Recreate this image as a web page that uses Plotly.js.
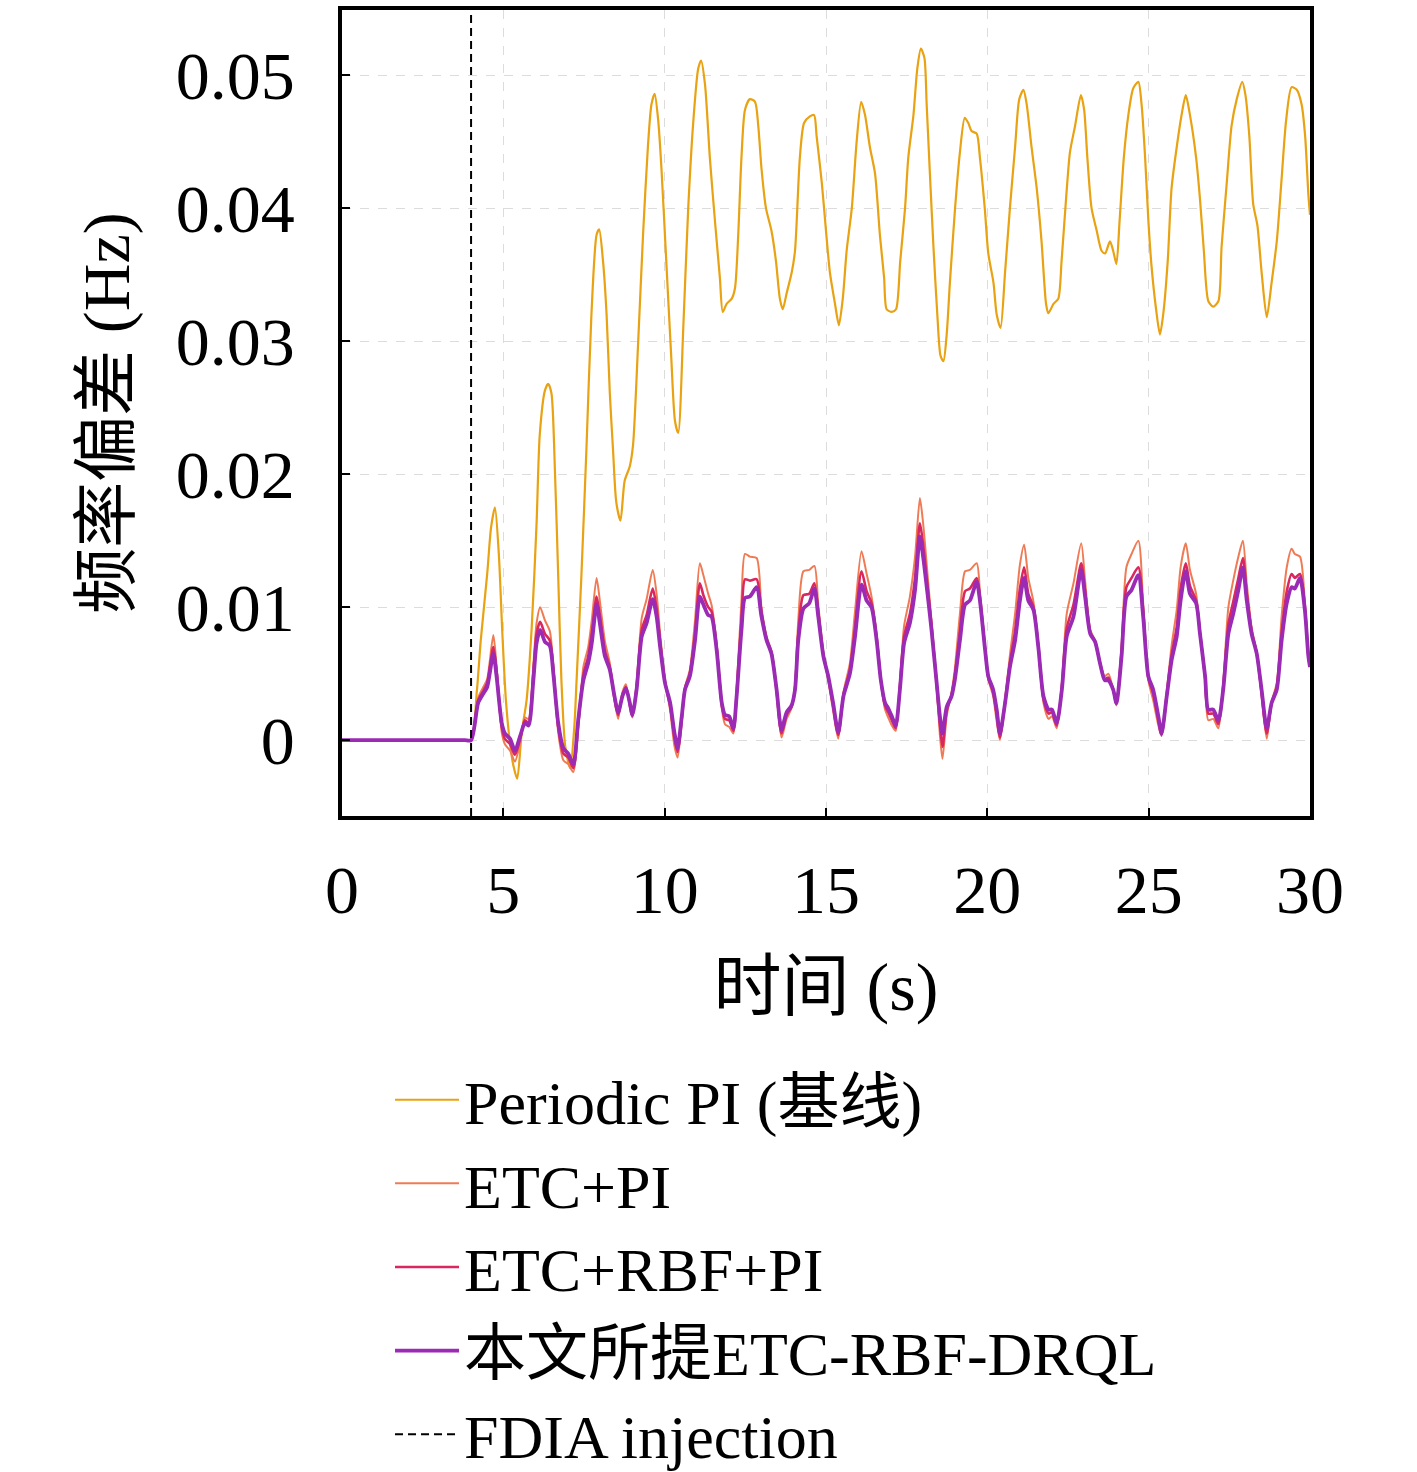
<!DOCTYPE html>
<html>
<head>
<meta charset="utf-8">
<script src="https://cdn.plot.ly/plotly-3.0.1.min.js"></script>
<style>
  body { margin: 0; background: #fff; }
  #plot { width: 1417px; height: 1472px; }
</style>
</head>
<body>
<div id="plot"></div>
<script>
// time grid for the three controller traces (s)
const tCtrl = [0, 1, 2, 3, 3.8, 4.0, 4.22, 4.38, 4.5, 4.69, 4.79, 4.95, 5.05, 5.21, 5.36, 5.52, 5.67, 5.78, 5.93, 6.03, 6.14, 6.29, 6.44, 6.55,
  6.70, 6.86, 7.01, 7.17, 7.32, 7.48, 7.63, 7.74, 7.89, 7.99, 8.15, 8.30, 8.43, 8.56, 8.69, 8.80, 8.92, 9.00, 9.13, 9.29,
  9.44, 9.63, 9.75, 9.86, 10.01, 10.17, 10.30, 10.40, 10.53, 10.63, 10.78, 10.94, 11.09, 11.20, 11.35, 11.45, 11.61, 11.77, 11.87, 12.00,
  12.13, 12.23, 12.38, 12.49, 12.64, 12.85, 13.00, 13.16, 13.31, 13.47, 13.62, 13.78, 13.93, 14.04, 14.14, 14.30, 14.48, 14.64, 14.76, 14.92,
  15.07, 15.22, 15.38, 15.54, 15.74, 15.90, 16.10, 16.26, 16.41, 16.57, 16.70, 16.83, 16.93, 17.04, 17.16, 17.29, 17.42, 17.60, 17.76, 17.91,
  18.01, 18.17, 18.27, 18.43, 18.53, 18.61, 18.74, 18.89, 18.99, 19.15, 19.31, 19.46, 19.67, 19.77, 19.93, 20.03, 20.18, 20.29, 20.39, 20.55,
  20.70, 20.86, 21.01, 21.14, 21.27, 21.43, 21.58, 21.74, 21.90, 22.00, 22.15, 22.31, 22.46, 22.67, 22.91, 23.03, 23.19, 23.34, 23.49, 23.64,
  23.75, 23.90, 24.00, 24.16, 24.31, 24.47, 24.68, 24.83, 24.99, 25.14, 25.30, 25.40, 25.56, 25.71, 25.87, 25.99, 26.15, 26.28, 26.47, 26.59,
  26.75, 26.85, 27.00, 27.16, 27.31, 27.47, 27.62, 27.78, 27.92, 28.04, 28.19, 28.35, 28.50, 28.66, 28.81, 28.97, 29.12, 29.28, 29.43, 29.53,
  29.69, 29.84, 29.95, 30.00];

const proposed = [0, 0, 0, 0, 0, 0, .0028, .0035, .0040, .0065, .0048, .0013, .0005, .0001, -.0008, .0003, .0013, .0011, .0045, .0073, .0083, .0074, .0071, .0050,
  .0013, -.0006, -.0010, -.0018, .0015, .0045, .0058, .0073, .0102, .0088, .0063, .0053, .0035, .0021, .0033, .0039, .0028, .0019, .0038, .0078,
  .0088, .0106, .0093, .0070, .0043, .0028, .0006, -.0006, .0018, .0038, .0048, .0075, .0108, .0102, .0094, .0093, .0068, .0028, .0019, .0018,
  .0009, .0033, .0083, .0107, .0108, .0115, .0093, .0075, .0065, .0038, .0008, .0021, .0026, .0038, .0075, .0099, .0103, .0114, .0093, .0063,
  .0048, .0028, .0006, .0033, .0050, .0078, .0117, .0105, .0100, .0075, .0045, .0028, .0024, .0018, .0011, .0038, .0073, .0088, .0113, .0153,
  .0138, .0105, .0083, .0043, .0018, .0005, .0025, .0033, .0045, .0075, .0102, .0105, .0119, .0105, .0068, .0048, .0038, .0023, .0005, .0028,
  .0055, .0075, .0105, .0122, .0105, .0098, .0070, .0033, .0023, .0023, .0013, .0038, .0078, .0093, .0128, .0108, .0080, .0074, .0058, .0045,
  .0045, .0038, .0028, .0063, .0108, .0113, .0124, .0093, .0048, .0038, .0018, .0005, .0033, .0060, .0078, .0105, .0127, .0110, .0103, .0080,
  .0048, .0023, .0023, .0015, .0038, .0080, .0095, .0113, .0130, .0105, .0080, .0065, .0038, .0009, .0028, .0038, .0075, .0103, .0115, .0114,
  .0122, .0098, .0063, .0055];

const etcRbfPI = [0, 0, 0, 0, 0, 0, .0030, .0037, .0043, .0070, .0052, .0010, .0001, -.0003, -.0011, .0001, .0015, .0013, .0050, .0080, .0089, .0080, .0075, .0053,
  .0010, -.0010, -.0013, -.0021, .0012, .0049, .0063, .0080, .0108, .0094, .0067, .0055, .0034, .0019, .0034, .0040, .0027, .0018, .0040, .0083,
  .0094, .0114, .0099, .0074, .0044, .0026, .0002, -.0009, .0016, .0039, .0050, .0080, .0118, .0109, .0100, .0097, .0070, .0027, .0016, .0015,
  .0007, .0035, .0090, .0121, .0120, .0121, .0096, .0076, .0066, .0037, .0005, .0019, .0025, .0039, .0080, .0109, .0110, .0118, .0096, .0064,
  .0047, .0026, .0004, .0034, .0053, .0085, .0127, .0112, .0103, .0077, .0045, .0026, .0021, .0015, .0009, .0040, .0078, .0095, .0122, .0163,
  .0147, .0110, .0086, .0042, .0012, -.0005, .0022, .0034, .0048, .0082, .0112, .0114, .0122, .0107, .0069, .0047, .0036, .0019, .0002, .0029,
  .0058, .0082, .0114, .0130, .0110, .0100, .0071, .0031, .0020, .0021, .0011, .0040, .0084, .0102, .0133, .0112, .0081, .0074, .0058, .0046,
  .0047, .0038, .0027, .0066, .0115, .0122, .0130, .0097, .0047, .0035, .0015, .0004, .0034, .0064, .0085, .0114, .0133, .0116, .0105, .0081,
  .0047, .0020, .0020, .0012, .0040, .0087, .0104, .0122, .0137, .0110, .0082, .0065, .0036, .0005, .0028, .0040, .0081, .0112, .0125, .0122,
  .0125, .0100, .0063, .0055];

const etcPI = [0, 0, 0, 0, 0, 0, .0032, .0040, .0046, .0079, .0056, .0006, -.0003, -.0008, -.0016, -.0002, .0017, .0016, .0057, .0088, .0100, .0090, .0082, .0056,
  .0006, -.0015, -.0018, -.0024, .0008, .0055, .0070, .0090, .0122, .0105, .0074, .0058, .0032, .0016, .0036, .0042, .0025, .0017, .0043, .0092,
  .0106, .0128, .0110, .0080, .0045, .0022, -.0004, -.0013, .0013, .0040, .0053, .0090, .0133, .0124, .0110, .0102, .0073, .0024, .0012, .0010,
  .0005, .0038, .0105, .0140, .0138, .0137, .0100, .0078, .0067, .0035, .0002, .0016, .0024, .0041, .0090, .0127, .0128, .0131, .0102, .0066,
  .0045, .0022, .0001, .0036, .0058, .0097, .0142, .0125, .0108, .0079, .0045, .0023, .0017, .0011, .0007, .0043, .0086, .0108, .0138, .0182,
  .0163, .0118, .0090, .0040, .0004, -.0014, .0018, .0036, .0053, .0095, .0127, .0128, .0133, .0112, .0070, .0046, .0033, .0014, .0000, .0031,
  .0064, .0095, .0132, .0147, .0122, .0104, .0072, .0028, .0016, .0018, .0009, .0043, .0095, .0118, .0148, .0120, .0083, .0075, .0059, .0048,
  .0050, .0038, .0026, .0072, .0130, .0140, .0150, .0103, .0045, .0030, .0011, .0003, .0037, .0071, .0098, .0130, .0148, .0128, .0110, .0082,
  .0045, .0015, .0016, .0009, .0043, .0100, .0120, .0138, .0150, .0118, .0085, .0066, .0033, .0001, .0029, .0043, .0093, .0130, .0144, .0140,
  .0138, .0104, .0063, .0055];

// periodic PI baseline, read on its own time grid
const tPeriodic = [0, 1, 2, 3, 3.8, 4.0, 4.18, 4.3, 4.5, 4.62, 4.74, 4.86, 4.97, 5.08, 5.22, 5.32, 5.43, 5.57, 5.72, 5.88, 6.03, 6.13, 6.29, 6.39,
  6.49, 6.60, 6.70, 6.80, 6.92, 7.07, 7.20, 7.27, 7.42, 7.58, 7.73, 7.89, 7.97, 8.09, 8.20, 8.30, 8.40, 8.50, 8.63, 8.76,
  8.92, 9.02, 9.18, 9.33, 9.48, 9.59, 9.69, 9.80, 9.90, 10.05, 10.20, 10.32, 10.42, 10.58, 10.73, 10.89, 11.04, 11.13, 11.25, 11.40,
  11.56, 11.71, 11.80, 11.92, 12.08, 12.18, 12.28, 12.38, 12.49, 12.64, 12.80, 12.90, 13.00, 13.14, 13.31, 13.45, 13.57, 13.66, 13.78, 13.94,
  14.04, 14.19, 14.32, 14.50, 14.63, 14.71, 14.87, 15.00, 15.12, 15.28, 15.40, 15.52, 15.64, 15.80, 15.95, 16.09, 16.21, 16.36, 16.52, 16.67,
  16.80, 16.88, 17.04, 17.17, 17.30, 17.45, 17.55, 17.71, 17.83, 17.94, 18.05, 18.12, 18.22, 18.33, 18.45, 18.55, 18.64, 18.74, 18.84, 19.00,
  19.15, 19.30, 19.41, 19.51, 19.67, 19.77, 19.92, 20.03, 20.19, 20.29, 20.41, 20.55, 20.70, 20.86, 20.99, 21.12, 21.22, 21.37, 21.53, 21.68,
  21.82, 21.89, 22.05, 22.20, 22.30, 22.44, 22.56, 22.72, 22.90, 23.00, 23.10, 23.23, 23.39, 23.54, 23.65, 23.80, 23.90, 24.00, 24.10, 24.23,
  24.37, 24.52, 24.68, 24.78, 24.89, 24.99, 25.09, 25.23, 25.35, 25.45, 25.59, 25.71, 25.87, 26.02, 26.15, 26.28, 26.47, 26.59, 26.71, 26.85,
  27.00, 27.16, 27.26, 27.42, 27.57, 27.73, 27.90, 28.00, 28.12, 28.24, 28.37, 28.50, 28.66, 28.81, 28.97, 29.12, 29.26, 29.43, 29.59, 29.74,
  29.85, 29.95, 30.00];

const periodicPI = [0, 0, 0, 0, 0, 0, .0037, .0075, .0125, .0160, .0175, .0140, .0080, .0030, -.0005, -.0020, -.0029, .0006, .0030, .0085, .0163, .0230, .0263, .0268,
  .0261, .0202, .0124, .0045, -.0005, -.0021, .0010, .0045, .0124, .0222, .0320, .0380, .0384, .0360, .0320, .0261, .0218, .0179, .0165, .0195,
  .0206, .0222, .0300, .0380, .0446, .0478, .0486, .0466, .0430, .0360, .0290, .0240, .0231, .0312, .0400, .0466, .0505, .0511, .0493, .0438,
  .0390, .0348, .0322, .0328, .0332, .0340, .0380, .0438, .0474, .0482, .0480, .0462, .0430, .0400, .0383, .0360, .0332, .0324, .0336, .0352,
  .0368, .0438, .0464, .0469, .0470, .0454, .0419, .0383, .0352, .0328, .0312, .0332, .0368, .0400, .0450, .0480, .0470, .0446, .0426, .0380,
  .0348, .0324, .0322, .0324, .0360, .0400, .0438, .0470, .0505, .0520, .0513, .0478, .0426, .0371, .0320, .0289, .0285, .0305, .0344, .0400,
  .0442, .0468, .0464, .0458, .0456, .0438, .0400, .0366, .0344, .0320, .0310, .0352, .0400, .0446, .0482, .0489, .0478, .0446, .0415, .0375,
  .0328, .0321, .0328, .0332, .0360, .0407, .0442, .0462, .0485, .0474, .0438, .0400, .0383, .0368, .0366, .0375, .0368, .0358, .0391, .0438,
  .0470, .0490, .0495, .0478, .0438, .0391, .0356, .0324, .0305, .0320, .0360, .0415, .0446, .0470, .0485, .0470, .0438, .0407, .0368, .0330,
  .0326, .0330, .0371, .0419, .0462, .0482, .0495, .0485, .0454, .0403, .0387, .0352, .0318, .0344, .0375, .0422, .0466, .0491, .0489, .0478,
  .0454, .0410, .0395];

const injectionTime = 4;
const xRange = [0, 30];
const yRange = [-0.0057, 0.0549];
const xTicks = [0, 5, 10, 15, 20, 25, 30];
const yTicks = [0, 0.01, 0.02, 0.03, 0.04, 0.05];
const yTickText = ["0", "0.01", "0.02", "0.03", "0.04", "0.05"];

const serif = "Liberation Serif, Noto Sans CJK SC, serif";

const traces = [
  {
    type: "scatter", mode: "lines", name: "Periodic PI (基线)",
    x: tPeriodic, y: periodicPI,
    line: {color: "#E8A212", width: 2.2, shape: "spline", smoothing: 0.7}
  },
  {
    type: "scatter", mode: "lines", name: "ETC+PI",
    x: tCtrl, y: etcPI,
    line: {color: "#EF7B55", width: 2, shape: "spline", smoothing: 0.7}
  },
  {
    type: "scatter", mode: "lines", name: "ETC+RBF+PI",
    x: tCtrl, y: etcRbfPI,
    line: {color: "#D8285F", width: 2.6, shape: "spline", smoothing: 0.7}
  },
  {
    type: "scatter", mode: "lines", name: "本文所提ETC-RBF-DRQL",
    x: tCtrl, y: proposed,
    line: {color: "#9B2AB5", width: 3.8, shape: "spline", smoothing: 0.7}
  },
  {
    type: "scatter", mode: "lines", name: "FDIA injection",
    x: [injectionTime, injectionTime], y: yRange,
    line: {color: "#000000", width: 2, dash: "8px,5px"}
  }
];

const axisCommon = {
  showline: true, mirror: true, linecolor: "#000", linewidth: 3.5,
  ticks: "inside", ticklen: 8, tickwidth: 1.5, tickcolor: "#000",
  showgrid: true, gridcolor: "#dcdcdc", griddash: "dash", gridwidth: 1,
  zeroline: false,
  tickfont: {family: serif, size: 68, color: "#000"}
};

const layout = {
  width: 1417, height: 1472,
  margin: {l: 342, r: 107, t: 10, b: 656, autoexpand: false},
  paper_bgcolor: "#fff", plot_bgcolor: "#fff",
  font: {family: serif, color: "#000"},
  showlegend: true,
  legend: {
    x: 0.0496, y: -0.294, xanchor: "left", yanchor: "top",
    itemwidth: 64,
    font: {family: serif, size: 62, color: "#000"},
    bgcolor: "rgba(0,0,0,0)", borderwidth: 0
  },
  xaxis: Object.assign({}, axisCommon, {
    range: xRange, tickvals: xTicks, ticklabelstandoff: 12,
    title: {text: "时间 (s)", font: {family: serif, size: 68, color: "#000"}, standoff: 36}
  }),
  yaxis: Object.assign({}, axisCommon, {
    range: yRange, tickvals: yTicks, ticktext: yTickText, ticklabelstandoff: 30,
    title: {text: "频率偏差 (Hz)", font: {family: serif, size: 66, color: "#000"}, standoff: 26}
  })
};

Plotly.newPlot("plot", traces, layout, {displayModeBar: false, responsive: false});
</script>
</body>
</html>
